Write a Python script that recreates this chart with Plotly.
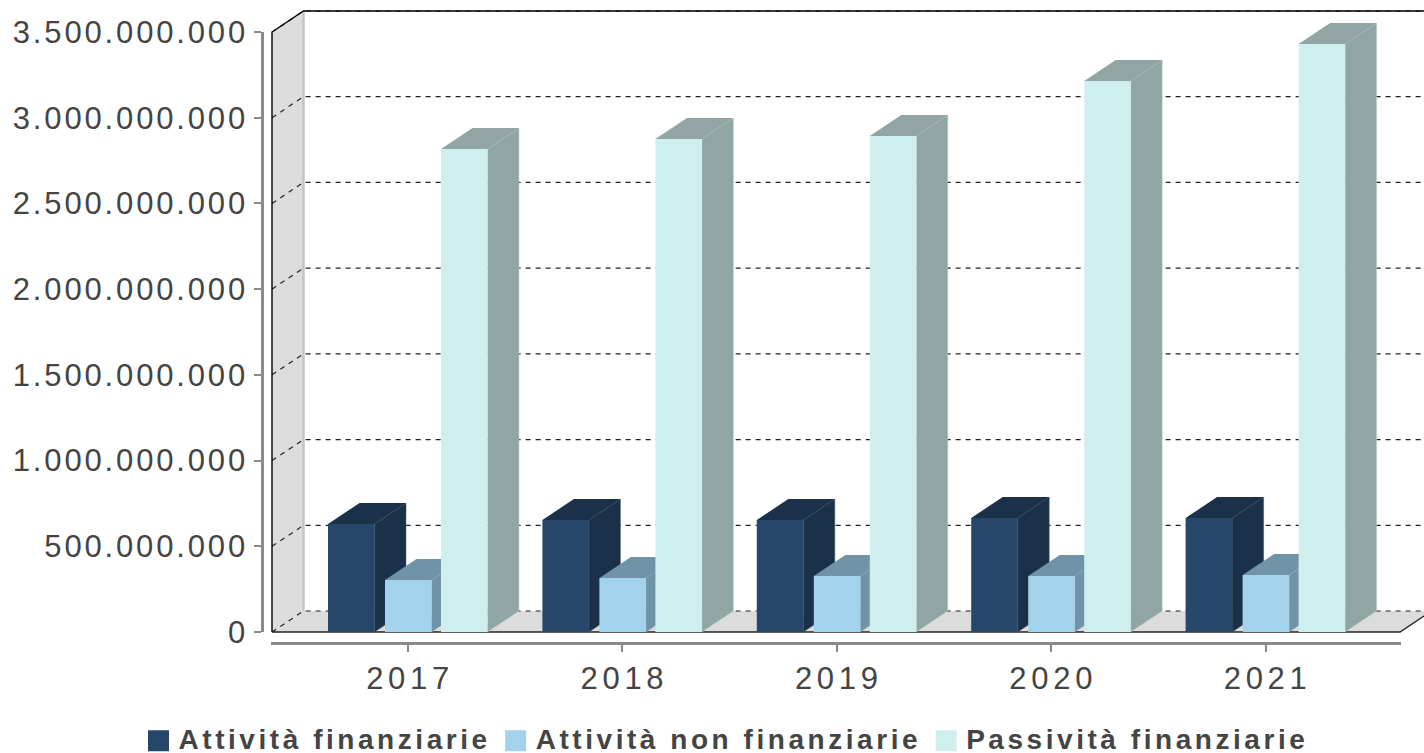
import plotly.graph_objects as go

years = ["2017", "2018", "2019", "2020", "2021"]
attivita_fin = [630e6, 653e6, 653e6, 665e6, 665e6]
attivita_non_fin = [303e6, 315e6, 327e6, 327e6, 332e6]
passivita_fin = [2817e6, 2876e6, 2893e6, 3214e6, 3430e6]
tick_values = [0, 500e6, 1000e6, 1500e6, 2000e6, 2500e6, 3000e6, 3500e6]
tick_labels = ["0", "500.000.000", "1.000.000.000", "1.500.000.000", "2.000.000.000",
               "2.500.000.000", "3.000.000.000", "3.500.000.000"]
names = ["Attività finanziarie", "Attività non finanziarie", "Passività finanziarie"]

W, H = 1424, 753
PX_X = 214.4            # pixels per category
PX_Y = 600 / 3.5e9      # pixels per value unit
LEFT, RIGHT = 271, 1401
TOP, BOTTOM = 32, 632
AXIS_Y = 643
CX0 = 408               # pixel centre of first category
DX = 31.5 / PX_X
DY = 21 / PX_Y
X0 = (272 - CX0) / PX_X
X1 = (1400 - CX0) / PX_X
BAR_W = 46.5 / PX_X
OFFS = [-80 / PX_X, -23 / PX_X, 33 / PX_X]
FRONT = ["#27476A", "#A3D2EC", "#CFEEEE"]
SIDE = ["#1B3149", "#7193A8", "#91A6A4"]
EDGE = ["#3A5873", "#8FB6CE", "#B5D2D2"]
VMAX = tick_values[-1]


def polys(list_of_pts):
    xs, ys = [], []
    for pts in list_of_pts:
        xs += [p[0] for p in pts] + [pts[0][0], None]
        ys += [p[1] for p in pts] + [pts[0][1], None]
    return xs, ys


fig = go.Figure()


def fill(pts, color, line=None, lw=0):
    xs, ys = polys(pts)
    fig.add_trace(go.Scatter(x=xs, y=ys, mode="lines", fill="toself", fillcolor=color,
                             line=dict(color=line or color, width=lw),
                             hoverinfo="skip", showlegend=False))


def line(xs, ys, color, width, dash="solid"):
    fig.add_trace(go.Scatter(x=xs, y=ys, mode="lines", line=dict(color=color, width=width, dash=dash),
                             hoverinfo="skip", showlegend=False))


# wall and floor
fill([[(X0, 0), (X0 + DX, DY), (X0 + DX, VMAX + DY), (X0, VMAX)]], "#DCDCDC")
fill([[(X0, 0), (X0 + DX, DY), (X1 + DX, DY), (X1, 0)]], "#DCDCDC")
line([X0 + DX, X0 + DX], [DY, VMAX + DY], "#C4C4C4", 2.5)

# dashed grid
gx, gy = [], []
for v in tick_values:
    gx += [X0, X0 + DX, X1 + DX, None]
    gy += [v, v + DY, v + DY, None]
line(gx, gy, "#222222", 1.2, "5px,5px")

# solid frame
line([X0, X0, X0 + DX, X1 + DX], [0, VMAX, VMAX + DY, VMAX + DY], "#000000", 1.4)
line([X0, X1, X1 + DX], [0, 0, DY], "#222222", 1.4)

# bars
for s, vals in enumerate([attivita_fin, attivita_non_fin, passivita_fin]):
    fronts, sides, tops = [], [], []
    for i, v in enumerate(vals):
        a = i + OFFS[s]
        b = a + BAR_W
        fronts.append([(a, 0), (b, 0), (b, v), (a, v)])
        sides.append([(b, 0), (b + DX, DY), (b + DX, v + DY), (b, v)])
        tops.append([(a, v), (b, v), (b + DX, v + DY), (a + DX, v + DY)])
    fill(sides, SIDE[s], EDGE[s], 0.5)
    fill(tops, SIDE[s])
    fill(fronts, FRONT[s])

# legend entries, also the traces that carry the visible axes
for name, col in zip(names, FRONT):
    fig.add_trace(go.Scatter(x=[None], y=[None], mode="markers", name=name, xaxis="x2", yaxis="y2",
                             marker=dict(symbol="square", size=16, color=col,
                                         line=dict(color=col, width=6))))

fig.update_layout(
    width=W, height=H, margin=dict(l=0, r=0, t=0, b=0, autoexpand=False),
    paper_bgcolor="white", plot_bgcolor="rgba(0,0,0,0)",
    font=dict(family="Liberation Sans", color="#444444"),
    showlegend=True,
    legend=dict(orientation="h", x=138.5 / W, xanchor="left", y=12 / H, yanchor="middle",
                font=dict(size=27.9, weight="bold", color="#444444"),
                itemclick=False, itemdoubleclick=False,
                bgcolor="rgba(0,0,0,0)"),
    # drawing axes covering the whole page
    xaxis=dict(domain=[0, 1], range=[-CX0 / PX_X, (W - CX0) / PX_X], visible=False),
    yaxis=dict(domain=[0, 1], range=[-(H - BOTTOM) / PX_Y, BOTTOM / PX_Y], visible=False),
    # visible axes
    xaxis2=dict(domain=[LEFT / W, RIGHT / W], anchor="free", position=(H - AXIS_Y) / H,
                range=[(LEFT - CX0) / PX_X, (RIGHT - CX0) / PX_X], showgrid=False, zeroline=False,
                showline=True, linecolor="#8A8A8A", linewidth=2.5,
                tickmode="array", tickvals=list(range(len(years))), ticktext=years,
                ticks="outside", ticklen=7, tickwidth=2, tickcolor="#8A8A8A",
                tickfont=dict(size=31, color="#444444"), ticklabelstandoff=0, ticklabelshift=2),
    yaxis2=dict(domain=[(H - BOTTOM) / H, (H - TOP) / H], anchor="free", position=262 / W,
                range=[0, VMAX], showgrid=False, zeroline=False,
                showline=True, linecolor="#8A8A8A", linewidth=2.5,
                tickmode="array", tickvals=tick_values, ticktext=tick_labels,
                ticks="outside", ticklen=7, tickwidth=2, tickcolor="#8A8A8A",
                tickfont=dict(size=31, color="#444444")),
)

post = """
var s=document.createElement('style');
s.textContent='html,body{margin:0;padding:0;overflow:hidden}.x2tick text{letter-spacing:4.7px}.y2tick text{letter-spacing:2.85px}.legendtext{letter-spacing:3.55px;transform:translateY(-3px)}.legend .scrollbox{clip-path:none !important}.legend .scrollbar{display:none}';
document.head.appendChild(s);
var gd=document.getElementById('{plot_id}');
Plotly.relayout(gd,{'legend.font.size':28});
"""
fig.write_html("out.html", post_script=post, config={"displayModeBar": False})
